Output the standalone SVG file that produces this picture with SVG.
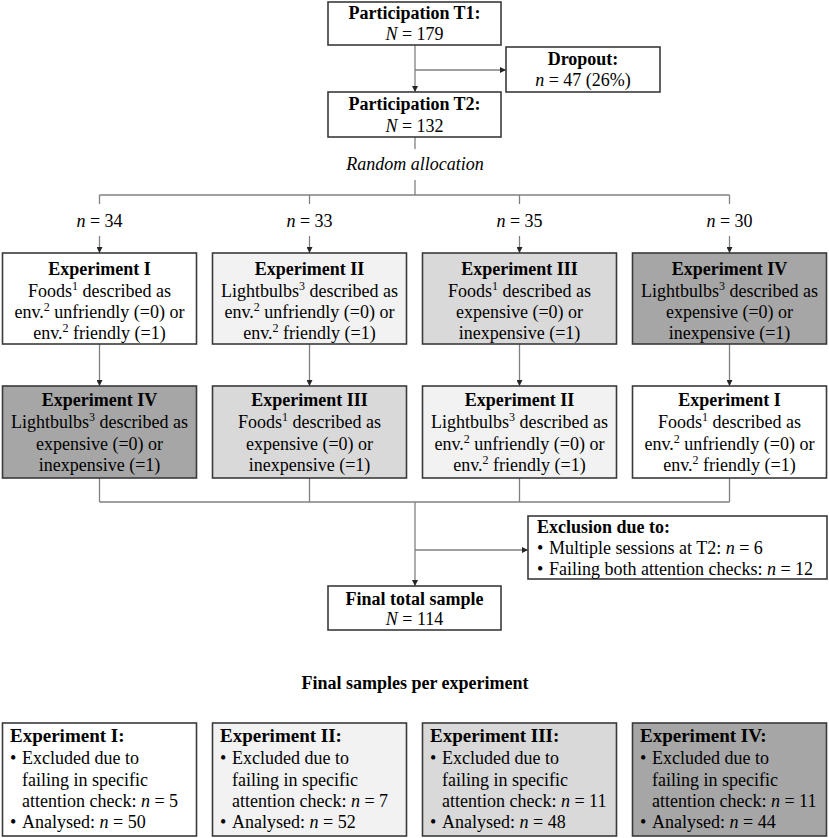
<svg xmlns="http://www.w3.org/2000/svg" width="829" height="838" viewBox="0 0 829 838">
<defs>
<style>
text{font-family:"Liberation Serif","Times New Roman",serif;font-size:18px;fill:#000}
.c{text-anchor:middle}
.b{font-weight:bold}
.t{font-size:19px}
.i{font-style:italic}
.box{stroke:#3a3a3a;stroke-width:1.6}
.w{fill:#ffffff}.l1{fill:#f2f2f2}.l2{fill:#d9d9d9}.l3{fill:#a6a6a6}
.con line{stroke:#808080;stroke-width:1.3;fill:none}
.ar{marker-end:url(#ah)}
</style>
<marker id="ah" viewBox="0 0 10 10" refX="10" refY="5" markerWidth="6" markerHeight="6" markerUnits="userSpaceOnUse" orient="auto">
<path d="M0,0 L10,5 L0,10 z" fill="#262626"/>
</marker>
</defs>
<rect width="829" height="838" fill="#ffffff"/>

<g id="connectors" class="con">
<line class="ar" x1="415" y1="45" x2="415" y2="92"/>
<line class="ar" x1="415" y1="70" x2="506" y2="70"/>
<line x1="415" y1="137" x2="415" y2="149"/>
<line x1="415" y1="180" x2="415" y2="195"/>
<line x1="99.5" y1="195" x2="729.5" y2="195"/>
<line x1="99.5" y1="195" x2="99.5" y2="204"/>
<line x1="309.5" y1="195" x2="309.5" y2="204"/>
<line x1="519.5" y1="195" x2="519.5" y2="204"/>
<line x1="729.5" y1="195" x2="729.5" y2="204"/>
<line class="ar" x1="99.5" y1="236" x2="99.5" y2="253"/>
<line class="ar" x1="309.5" y1="236" x2="309.5" y2="253"/>
<line class="ar" x1="519.5" y1="236" x2="519.5" y2="253"/>
<line class="ar" x1="729.5" y1="236" x2="729.5" y2="253"/>
<line class="ar" x1="99.5" y1="344" x2="99.5" y2="386"/>
<line class="ar" x1="309.5" y1="344" x2="309.5" y2="386"/>
<line class="ar" x1="519.5" y1="344" x2="519.5" y2="386"/>
<line class="ar" x1="729.5" y1="344" x2="729.5" y2="386"/>
<line x1="99.5" y1="478" x2="99.5" y2="502"/>
<line x1="309.5" y1="478" x2="309.5" y2="502"/>
<line x1="519.5" y1="478" x2="519.5" y2="502"/>
<line x1="729.5" y1="478" x2="729.5" y2="502"/>
<line x1="99.5" y1="502" x2="729.5" y2="502"/>
<line class="ar" x1="415" y1="502" x2="415" y2="586"/>
<line class="ar" x1="415" y1="550" x2="528" y2="550"/>
</g>

<g id="labels">
<text class="c i" x="415" y="170">Random allocation</text>
<text class="c" x="99.5" y="227"><tspan class="i">n</tspan> = 34</text>
<text class="c" x="309.5" y="227"><tspan class="i">n</tspan> = 33</text>
<text class="c" x="519.5" y="227"><tspan class="i">n</tspan> = 35</text>
<text class="c" x="729.5" y="227"><tspan class="i">n</tspan> = 30</text>
<text class="c b" x="415" y="689">Final samples per experiment</text>
</g>

<g id="t1">
<rect class="box w" x="328" y="2" width="173" height="43"/>
<text class="c b" x="414.5" y="19">Participation T1:</text>
<text class="c" x="414.5" y="40"><tspan class="i">N</tspan> = 179</text>
</g>
<g id="dropout">
<rect class="box w" x="506" y="47" width="154" height="45"/>
<text class="c b" x="583" y="65">Dropout:</text>
<text class="c" x="583" y="86"><tspan class="i">n</tspan> = 47 (26%)</text>
</g>
<g id="t2">
<rect class="box w" x="328" y="92" width="173" height="45"/>
<text class="c b" x="414.5" y="110">Participation T2:</text>
<text class="c" x="414.5" y="132"><tspan class="i">N</tspan> = 132</text>
</g>

<g id="r1e1">
<rect class="box w" x="2.5" y="253" width="194" height="91"/>
<text class="c b" x="99.5" y="275">Experiment I</text>
<text class="c" x="99.5" y="297">Foods<tspan font-size="12" dy="-7">1</tspan><tspan dy="7"> described as</tspan></text>
<text class="c" x="99.5" y="318">env.<tspan font-size="12" dy="-7">2</tspan><tspan dy="7"> unfriendly (=0) or</tspan></text>
<text class="c" x="99.5" y="339">env.<tspan font-size="12" dy="-7">2</tspan><tspan dy="7"> friendly (=1)</tspan></text>
</g>
<g id="r1e2">
<rect class="box l1" x="212.5" y="253" width="194" height="91"/>
<text class="c b" x="309.5" y="275">Experiment II</text>
<text class="c" x="309.5" y="297">Lightbulbs<tspan font-size="12" dy="-7">3</tspan><tspan dy="7"> described as</tspan></text>
<text class="c" x="309.5" y="318">env.<tspan font-size="12" dy="-7">2</tspan><tspan dy="7"> unfriendly (=0) or</tspan></text>
<text class="c" x="309.5" y="339">env.<tspan font-size="12" dy="-7">2</tspan><tspan dy="7"> friendly (=1)</tspan></text>
</g>
<g id="r1e3">
<rect class="box l2" x="422.5" y="253" width="194" height="91"/>
<text class="c b" x="519.5" y="275">Experiment III</text>
<text class="c" x="519.5" y="297">Foods<tspan font-size="12" dy="-7">1</tspan><tspan dy="7"> described as</tspan></text>
<text class="c" x="519.5" y="318">expensive (=0) or</text>
<text class="c" x="519.5" y="339">inexpensive (=1)</text>
</g>
<g id="r1e4">
<rect class="box l3" x="632.5" y="253" width="194" height="91"/>
<text class="c b" x="729.5" y="275">Experiment IV</text>
<text class="c" x="729.5" y="297">Lightbulbs<tspan font-size="12" dy="-7">3</tspan><tspan dy="7"> described as</tspan></text>
<text class="c" x="729.5" y="318">expensive (=0) or</text>
<text class="c" x="729.5" y="339">inexpensive (=1)</text>
</g>

<g id="r2e4">
<rect class="box l3" x="2.5" y="386" width="194" height="92"/>
<text class="c b" x="99.5" y="406">Experiment IV</text>
<text class="c" x="99.5" y="428">Lightbulbs<tspan font-size="12" dy="-7">3</tspan><tspan dy="7"> described as</tspan></text>
<text class="c" x="99.5" y="450">expensive (=0) or</text>
<text class="c" x="99.5" y="471">inexpensive (=1)</text>
</g>
<g id="r2e3">
<rect class="box l2" x="212.5" y="386" width="194" height="92"/>
<text class="c b" x="309.5" y="406">Experiment III</text>
<text class="c" x="309.5" y="428">Foods<tspan font-size="12" dy="-7">1</tspan><tspan dy="7"> described as</tspan></text>
<text class="c" x="309.5" y="450">expensive (=0) or</text>
<text class="c" x="309.5" y="471">inexpensive (=1)</text>
</g>
<g id="r2e2">
<rect class="box l1" x="422.5" y="386" width="194" height="92"/>
<text class="c b" x="519.5" y="406">Experiment II</text>
<text class="c" x="519.5" y="428">Lightbulbs<tspan font-size="12" dy="-7">3</tspan><tspan dy="7"> described as</tspan></text>
<text class="c" x="519.5" y="450">env.<tspan font-size="12" dy="-7">2</tspan><tspan dy="7"> unfriendly (=0) or</tspan></text>
<text class="c" x="519.5" y="471">env.<tspan font-size="12" dy="-7">2</tspan><tspan dy="7"> friendly (=1)</tspan></text>
</g>
<g id="r2e1">
<rect class="box w" x="632.5" y="386" width="194" height="92"/>
<text class="c b" x="729.5" y="406">Experiment I</text>
<text class="c" x="729.5" y="428">Foods<tspan font-size="12" dy="-7">1</tspan><tspan dy="7"> described as</tspan></text>
<text class="c" x="729.5" y="450">env.<tspan font-size="12" dy="-7">2</tspan><tspan dy="7"> unfriendly (=0) or</tspan></text>
<text class="c" x="729.5" y="471">env.<tspan font-size="12" dy="-7">2</tspan><tspan dy="7"> friendly (=1)</tspan></text>
</g>

<g id="exclusion">
<rect class="box w" x="528" y="516" width="299" height="63"/>
<text class="b" x="537" y="533">Exclusion due to:</text>
<text x="537" y="554">•</text><text x="549" y="554">Multiple sessions at T2: <tspan class="i">n</tspan> = 6</text>
<text x="537" y="575">•</text><text x="549" y="575">Failing both attention checks: <tspan class="i">n</tspan> = 12</text>
</g>
<g id="final">
<rect class="box w" x="328" y="586" width="173" height="44"/>
<text class="c b" x="414.5" y="605">Final total sample</text>
<text class="c" x="414.5" y="625"><tspan class="i">N</tspan> = 114</text>
</g>

<g id="f1">
<rect class="box w" x="2.5" y="723" width="194" height="113"/>
<text class="b t" x="10" y="742">Experiment I:</text>
<text x="10" y="764">•</text><text x="22" y="764">Excluded due to</text>
<text x="22" y="785.5">failing in specific</text>
<text x="22" y="807">attention check: <tspan class="i">n</tspan> = 5</text>
<text x="10" y="828">•</text><text x="22" y="828">Analysed: <tspan class="i">n</tspan> = 50</text>
</g>
<g id="f2">
<rect class="box l1" x="212.5" y="723" width="194" height="113"/>
<text class="b t" x="220" y="742">Experiment II:</text>
<text x="220" y="764">•</text><text x="232" y="764">Excluded due to</text>
<text x="232" y="785.5">failing in specific</text>
<text x="232" y="807">attention check: <tspan class="i">n</tspan> = 7</text>
<text x="220" y="828">•</text><text x="232" y="828">Analysed: <tspan class="i">n</tspan> = 52</text>
</g>
<g id="f3">
<rect class="box l2" x="422.5" y="723" width="194" height="113"/>
<text class="b t" x="430" y="742">Experiment III:</text>
<text x="430" y="764">•</text><text x="442" y="764">Excluded due to</text>
<text x="442" y="785.5">failing in specific</text>
<text x="442" y="807">attention check: <tspan class="i">n</tspan> = 11</text>
<text x="430" y="828">•</text><text x="442" y="828">Analysed: <tspan class="i">n</tspan> = 48</text>
</g>
<g id="f4">
<rect class="box l3" x="632.5" y="723" width="194" height="113"/>
<text class="b t" x="640" y="742">Experiment IV:</text>
<text x="640" y="764">•</text><text x="652" y="764">Excluded due to</text>
<text x="652" y="785.5">failing in specific</text>
<text x="652" y="807">attention check: <tspan class="i">n</tspan> = 11</text>
<text x="640" y="828">•</text><text x="652" y="828">Analysed: <tspan class="i">n</tspan> = 44</text>
</g>
</svg>
